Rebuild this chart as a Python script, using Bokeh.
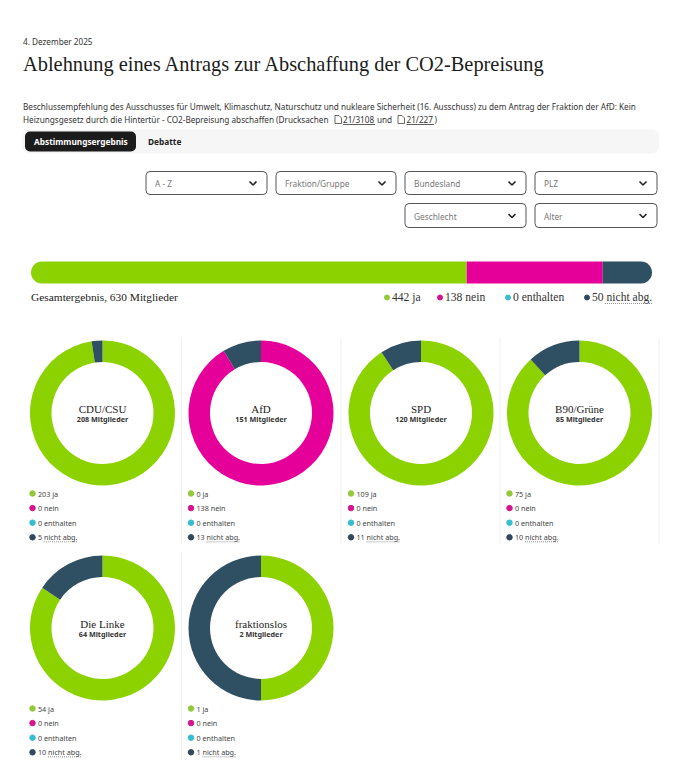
import math
from bokeh.core.properties import value
from bokeh.embed import file_html
from bokeh.models import ColumnDataSource, Range1d
from bokeh.plotting import figure
from bokeh.resources import INLINE

# Abstimmungsdaten
vote_labels = ["ja", "nein", "enthalten", "nicht abg."]
vote_colors = ["#8cd200", "#e6009a", "#2bbfd3", "#2f4f63"]
dot_colors = ["#93c83a", "#d4148f", "#35bdd0", "#33485c"]

total_votes = [442, 138, 0, 50]
total_members = 630

parties = ["CDU/CSU", "AfD", "SPD", "B90/Grüne", "Die Linke", "fraktionslos"]
members = [208, 151, 120, 85, 64, 2]
ja = [203, 0, 109, 75, 54, 1]
nein = [0, 138, 0, 0, 0, 0]
enthalten = [0, 0, 0, 0, 0, 0]
nicht_abg = [5, 13, 11, 10, 10, 1]

date_text = "4. Dezember 2025"
title_text = "Ablehnung eines Antrags zur Abschaffung der CO2-Bepreisung"
desc_1 = ("Beschlussempfehlung des Ausschusses für Umwelt, Klimaschutz, Naturschutz und nukleare "
          "Sicherheit (16. Ausschuss) zu dem Antrag der Fraktion der AfD: Kein")
desc_2 = "Heizungsgesetz durch die Hintertür - CO2-Bepreisung abschaffen (Drucksachen"
filters_1 = ["A - Z", "Fraktion/Gruppe", "Bundesland", "PLZ"]
filters_2 = ["Geschlecht", "Alter"]

SANS = "Noto Sans"
SERIF = "Liberation Serif"
W, H = 682, 770


def Y(py):
    # y von oben gemessen, wie im Bild
    return 770 - py


p = figure(width=W, height=H, x_range=Range1d(0.5, W + 0.5), y_range=Range1d(-1, H - 1),
           output_backend="svg", toolbar_location=None, min_border=0)
p.axis.visible = False
p.grid.visible = False
p.outline_line_color = None


def txt(x, y, s, size, color="#333333", font=SANS, style="normal", align="left"):
    p.text([x], [Y(y)], text=[s], text_font=value(font), text_font_size=f"{size}px", text_color=color,
           text_font_style=style, text_align=align, text_baseline="middle")


def box(x0, x1, y0, y1, fill, line=None, radius=4, width=1):
    p.quad(left=[x0], right=[x1], top=[Y(y0)], bottom=[Y(y1)], fill_color=fill, line_color=line,
           line_width=width, border_radius=radius)


def dotted(x0, x1, y):
    p.line([x0, x1], [Y(y), Y(y)], line_color="#777777", line_width=0.8, line_dash=[1, 1])


def doc_icon(x, y):
    xs = [x, x + 4, x + 6.5, x + 6.5, x, x]
    ys = [y, y, y + 2.5, y + 8, y + 8, y]
    p.line(xs, [Y(v) for v in ys], line_color="#444444", line_width=0.8)


# Kopf
txt(23, 42, date_text, 8.2)
txt(23, 64, title_text, 20.4, color="#1c1c1c", font=SERIF)
txt(23, 107, desc_1, 8.2)
txt(23, 120, desc_2, 8.2)
doc_icon(335, 116)
txt(343, 120, "21/3108", 8.2)
p.line([343, 375], [Y(125), Y(125)], line_color="#333333", line_width=0.8)
txt(377, 120, "und", 8.2)
doc_icon(398, 116)
txt(406.5, 120, "21/227", 8.2)
p.line([406.5, 434], [Y(125), Y(125)], line_color="#333333", line_width=0.8)
txt(434.5, 120, ")", 8.2)

# Tabs
box(22, 659, 130, 154, "#f6f6f6", radius=7)
box(25, 136, 132, 152, "#1c1c1c", radius=5)
txt(34, 142, "Abstimmungsergebnis", 8.3, color="#ffffff", style="bold")
txt(148, 142, "Debatte", 8.3, color="#222222", style="bold")


# Filter
def dropdown(x0, x1, y0, y1, label):
    box(x0, x1, y0, y1, "#ffffff", line="#555555", radius=4)
    txt(x0 + 9, (y0 + y1) / 2 + 0.5, label, 8.3, color="#777777")
    cx = x1 - 14
    cy = (y0 + y1) / 2
    p.line([cx - 3.5, cx, cx + 3.5], [Y(cy - 1.5), Y(cy + 2), Y(cy - 1.5)], line_color="#222222", line_width=1.6)


x_slots = [(146, 267), (276, 396), (405, 526), (535, 657)]
for (a, b), label in zip(x_slots, filters_1):
    dropdown(a, b, 172, 195, label)
for (a, b), label in zip(x_slots[2:], filters_2):
    dropdown(a, b, 204, 228, label)

# Gesamtbalken
bar_x0, bar_x1 = 31, 652
scale = (bar_x1 - bar_x0) / total_members
cum = 0
shown = [(v, c) for v, c in zip(total_votes, vote_colors) if v > 0]
for i, (v, c) in enumerate(shown):
    radius = (0, 0, 0, 0)
    if i == 0:
        radius = (11, 0, 0, 11)
    if i == len(shown) - 1:
        radius = (0, 11, 11, 0)
    p.quad(left=[bar_x0 + cum * scale], right=[bar_x0 + (cum + v) * scale], top=[Y(262)], bottom=[Y(284)],
           fill_color=c, line_color=None, border_radius=radius)
    cum += v

txt(31, 297, f"Gesamtergebnis, {total_members} Mitglieder", 11.4, color="#222222", font=SERIF)
legend_x = [387, 440, 508, 587]
for x, v, lab, c in zip(legend_x, total_votes, vote_labels, dot_colors):
    p.scatter([x], [Y(298)], size=5, color=c)
    txt(x + 5, 298, f"{v} {lab}", 11.6, color="#333333", font=SERIF)
dotted(605, 652, 304)

# Donuts
centers = [(102.5, 413.5), (261, 413.5), (421, 413.5), (579.5, 413.5), (102.5, 628.5), (261, 628.5)]
wedges = dict(x=[], y=[], start=[], end=[], color=[])
for k, party in enumerate(parties):
    cx, cy = centers[k]
    votes = [ja[k], nein[k], enthalten[k], nicht_abg[k]]
    cum = 0
    for v, c in zip(votes, vote_colors):
        if v == 0:
            continue
        wedges["x"].append(cx)
        wedges["y"].append(Y(cy))
        wedges["start"].append(math.pi / 2 - 2 * math.pi * cum / members[k])
        wedges["end"].append(math.pi / 2 - 2 * math.pi * (cum + v) / members[k])
        wedges["color"].append(c)
        cum += v

    txt(cx, cy - 4.5, party, 11, color="#1c1c1c", font=SERIF, align="center")
    txt(cx, cy + 6, f"{members[k]} Mitglieder", 7.2, color="#333333", style="bold", align="center")

    for j, (v, lab, c) in enumerate(zip(votes, vote_labels, dot_colors)):
        ly = cy + 80.5 + j * 14.6
        p.scatter([cx - 70], [Y(ly)], size=5.5, color=c)
        txt(cx - 64.5, ly, f"{v} {lab}", 7.2, color="#444444")
    ul = cx - 64.5 + len(str(votes[3])) * 4.1 + 1.8
    dotted(ul, ul + 33, cy + 80.5 + 3 * 14.6 + 4.5)

p.annular_wedge(x="x", y="y", inner_radius=51, outer_radius=72.5, start_angle="start", end_angle="end",
                direction="clock", color="color", line_color=None, source=ColumnDataSource(wedges))

# Trennlinien
for x in [181.5, 341, 500, 659]:
    p.line([x, x], [Y(338), Y(545)], line_color="#f0f0f0", line_width=1)
p.line([181.5, 181.5], [Y(553), Y(760)], line_color="#f0f0f0", line_width=1)

open("out.html", "w").write(file_html(p, INLINE))
